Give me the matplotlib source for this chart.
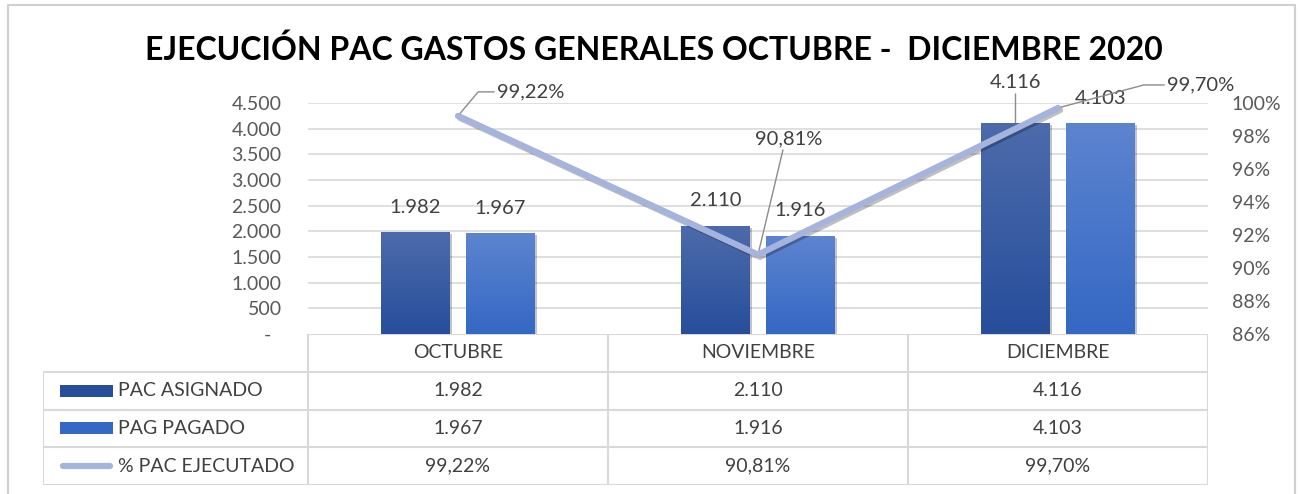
import numpy as np
import matplotlib.pyplot as plt
import matplotlib.patheffects as pe
from matplotlib.patches import Rectangle
from matplotlib.lines import Line2D

plt.rcParams['font.family'] = ['Lato', 'DejaVu Sans']

# datos
meses = ["OCTUBRE", "NOVIEMBRE", "DICIEMBRE"]
pac_asignado = [1982, 2110, 4116]
pac_pagado = [1967, 1916, 4103]
pct_ejecutado = [0.9922, 0.9081, 0.9970]
series = ["PAC ASIGNADO", "PAG PAGADO", "% PAC EJECUTADO"]

c_asig = ("#4d6bab", "#274e9b")   # gradiente arriba -> abajo
c_pag = ("#5d84cf", "#3468c4")
c_line = "#a5b4dc"
c_grid = "#d9d9d9"
c_txt = "#404040"
c_tick = "#595959"


def miles(v):
    return "-  " if v == 0 else f"{v:,.0f}".replace(",", ".")


def pct(v):
    return f"{v * 100:.2f}%".replace(".", ",")


W, H = 1300, 494
fig = plt.figure(figsize=(W / 100, H / 100), dpi=100)

# borde exterior del grafico
fig.add_artist(Line2D([8 / W, 8 / W, 1295 / W, 1295 / W], [0, 1 - 5 / H, 1 - 5 / H, 0],
                      transform=fig.transFigure, color="#d0d0d0", lw=1.5))

fig.text(654 / W, 1 - 50 / H, "EJECUCIÓN PAC GASTOS GENERALES OCTUBRE -  DICIEMBRE 2020",
         ha="center", va="center", fontsize=23, fontweight="bold", color="black")

# ejes principales
x0, x1, y0, y1 = 308, 1208, 334, 103
ax = fig.add_axes([x0 / W, 1 - y0 / H, (x1 - x0) / W, (y0 - y1) / H])
x = np.arange(len(meses))
off, bw = 0.1417, 0.227


def barras(xs, vals, cols):
    bars = ax.bar(xs, vals, bw, color=cols[1], zorder=2,
                  path_effects=[pe.SimplePatchShadow(offset=(1.5, -1.5), alpha=0.25), pe.Normal()])
    grad = np.linspace(0, 1, 256).reshape(-1, 1)
    from matplotlib.colors import LinearSegmentedColormap
    cmap = LinearSegmentedColormap.from_list("g", [cols[1], cols[0]])
    for b in bars:
        bx, by = b.get_x(), b.get_y()
        im = ax.imshow(grad, cmap=cmap, aspect="auto", origin="lower", zorder=3,
                       extent=[bx, bx + b.get_width(), by, by + b.get_height()])
        im.set_clip_path(b)
    return bars


barras(x - off, pac_asignado, c_asig)
barras(x + off, pac_pagado, c_pag)

ax.set_xlim(-0.5, 2.5)
ax.set_ylim(0, 4500)
ax.set_yticks(np.arange(0, 4501, 500))
ax.set_yticklabels([miles(v) for v in np.arange(0, 4501, 500)])
ax.set_xticks([])
ax.tick_params(axis="y", length=0, pad=19, labelsize=14, labelcolor=c_tick)
for s in ax.spines.values():
    s.set_visible(False)
for v in np.arange(500, 4501, 500):
    ax.axhline(v, color=c_grid, lw=1.2, zorder=1)

# etiquetas de barras
for i in range(len(meses)):
    for xs, v, dy in [(x[i] - off, pac_asignado[i], 25), (x[i] + off, pac_pagado[i], 25)]:
        if v == pac_asignado[2] and i == 2:
            ax.annotate(miles(v), xy=(xs, v), xytext=(0, 40), textcoords="offset pixels",
                        ha="center", va="center", fontsize=14.5, color=c_txt, zorder=6,
                        arrowprops=dict(arrowstyle="-", color="#8c8c8c", lw=1, shrinkA=0, shrinkB=0))
        else:
            ax.annotate(miles(v), xy=(xs, v), xytext=(0, dy), textcoords="offset pixels",
                        ha="center", va="center", fontsize=14.5, color=c_txt, zorder=6)

# eje secundario (porcentaje)
ax2 = ax.twinx()
ax2.set_ylim(0.86, 1.00)
ax2.set_yticks(np.arange(0.86, 1.001, 0.02))
ax2.set_yticklabels([f"{round(v * 100)}%" for v in np.arange(0.86, 1.001, 0.02)])
ax2.tick_params(axis="y", length=0, pad=17, labelsize=14, labelcolor=c_tick)
for s in ax2.spines.values():
    s.set_visible(False)
ax2.plot(x, pct_ejecutado, color=c_line, lw=4.5, solid_capstyle="round", solid_joinstyle="miter",
         zorder=4, path_effects=[pe.SimpleLineShadow(offset=(1.5, -1.5), alpha=0.25), pe.Normal()])

lbl = [((39, 24), "left", (0, 0.5), "angle,angleA=0,angleB=50,rad=0"),
       ((31, 116), "center", (0.42, 0), "arc3"),
       ((109, 23), "left", (0, 0.5), "angle,angleA=0,angleB=15,rad=0")]
for i, (o, ha, rp, cs) in enumerate(lbl):
    ax2.annotate(pct(pct_ejecutado[i]), xy=(x[i], pct_ejecutado[i]), xytext=o,
                 textcoords="offset pixels", ha=ha, va="center", fontsize=14.5, color=c_txt,
                 arrowprops=dict(arrowstyle="-", color="#8c8c8c", lw=1, shrinkA=0, shrinkB=0,
                                 relpos=rp, connectionstyle=cs))

# tabla de datos
tl, tb = 43, 485
tax = fig.add_axes([tl / W, 1 - tb / H, (x1 - tl) / W, (tb - y0) / H])
lab_w = (x0 - tl) / 300
tax.set_xlim(-0.5 - lab_w, 2.5)
tax.set_ylim(0, 4)
tax.axis("off")
lk = dict(color=c_grid, lw=1.5, solid_capstyle="butt")
tax.plot([-0.5, 2.5], [4, 4], **lk)
for yy in [0, 1, 2, 3]:
    tax.plot([-0.5 - lab_w, 2.5], [yy, yy], **lk)
for xx in [-0.5, 0.5, 1.5, 2.5]:
    tax.plot([xx, xx], [0, 4], **lk)
tax.plot([-0.5 - lab_w] * 2, [0, 3], **lk)

for i, m in enumerate(meses):
    tax.text(x[i], 3.5, m, ha="center", va="center", fontsize=14, color=c_txt)
    tax.text(x[i], 2.5, miles(pac_asignado[i]), ha="center", va="center", fontsize=14, color=c_txt)
    tax.text(x[i], 1.5, miles(pac_pagado[i]), ha="center", va="center", fontsize=14, color=c_txt)
    tax.text(x[i], 0.5, pct(pct_ejecutado[i]), ha="center", va="center", fontsize=14, color=c_txt)

kx0 = -0.5 - lab_w + 17 / 300
kw = 53 / 300
kh = 12 / 37.75
for r, cols in [(2.5, c_asig), (1.5, c_pag)]:
    tax.add_patch(Rectangle((kx0, r - kh / 2), kw, kh, color=cols[1], lw=0))
tax.plot([kx0 + 0.01, kx0 + kw - 0.01], [0.5, 0.5], color=c_line, lw=4.5, solid_capstyle="round")
for r, s in zip([2.5, 1.5, 0.5], series):
    tax.text(kx0 + kw + 5 / 300, r, s, ha="left", va="center", fontsize=14, color=c_txt)

fig.savefig("out.png", dpi=100)
